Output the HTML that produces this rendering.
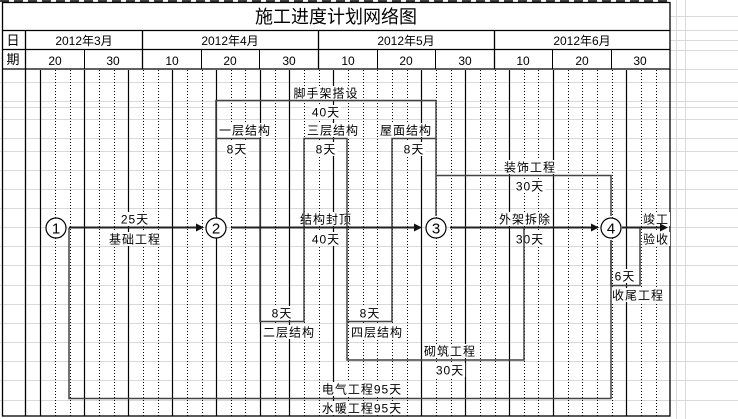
<!DOCTYPE html>
<html><head><meta charset="utf-8"><style>
html,body{margin:0;padding:0;background:#fff;width:738px;height:419px;overflow:hidden}
svg{display:block}
text{font-family:"Liberation Sans","Noto Sans CJK SC",sans-serif;font-size:12px;fill:#000}
.l{letter-spacing:1px}
</style></head><body>
<svg width="738" height="419" viewBox="0 0 738 419" xmlns="http://www.w3.org/2000/svg">
<g stroke="#d9d9d9" stroke-width="1">
<line x1="0" y1="82.5" x2="738" y2="82.5"/><line x1="0" y1="101.5" x2="738" y2="101.5"/>
<line x1="0" y1="107.5" x2="738" y2="107.5"/><line x1="0" y1="119.5" x2="738" y2="119.5"/>
<line x1="0" y1="138.5" x2="738" y2="138.5"/><line x1="0" y1="151.5" x2="738" y2="151.5"/>
<line x1="0" y1="170.5" x2="738" y2="170.5"/><line x1="0" y1="189.5" x2="738" y2="189.5"/>
<line x1="0" y1="208.5" x2="738" y2="208.5"/><line x1="0" y1="227.5" x2="738" y2="227.5"/>
<line x1="0" y1="246.5" x2="738" y2="246.5"/><line x1="0" y1="265.5" x2="738" y2="265.5"/>
<line x1="0" y1="285.5" x2="738" y2="285.5"/><line x1="0" y1="304.5" x2="738" y2="304.5"/>
<line x1="0" y1="323.5" x2="738" y2="323.5"/><line x1="0" y1="342.5" x2="738" y2="342.5"/>
<line x1="0" y1="361.5" x2="738" y2="361.5"/><line x1="0" y1="380.5" x2="738" y2="380.5"/>
<line x1="0" y1="400.5" x2="738" y2="400.5"/>
<line x1="670" y1="16.5" x2="738" y2="16.5"/><line x1="670" y1="30.5" x2="738" y2="30.5"/>
<line x1="670" y1="40.5" x2="738" y2="40.5"/><line x1="670" y1="50.5" x2="738" y2="50.5"/>
<line x1="670" y1="69.5" x2="738" y2="69.5"/>
<line x1="676.5" y1="0" x2="676.5" y2="419"/><line x1="685.5" y1="0" x2="685.5" y2="419"/>
</g>
<line x1="0" y1="1" x2="670" y2="1" stroke="#000" stroke-width="1.5" stroke-dasharray="9,5"/>
<g id="vg" stroke="#000" stroke-width="1"></g>
<g stroke="#000" stroke-width="1.3" fill="none">
<rect x="2.5" y="2.5" width="667.5" height="413.5"/>
<line x1="2" y1="30.5" x2="670" y2="30.5"/>
<line x1="2" y1="49.5" x2="670" y2="49.5"/>
<line x1="2" y1="69" x2="670" y2="69"/>
<line x1="25.5" y1="30" x2="25.5" y2="416"/>
<line x1="142.5" y1="30" x2="142.5" y2="69"/>
<line x1="318.5" y1="30" x2="318.5" y2="69"/>
<line x1="494.5" y1="30" x2="494.5" y2="69"/>
</g>
<g stroke="#000" stroke-width="1">
<line x1="84.5" y1="50" x2="84.5" y2="69"/><line x1="201.5" y1="50" x2="201.5" y2="69"/>
<line x1="259.5" y1="50" x2="259.5" y2="69"/><line x1="377.5" y1="50" x2="377.5" y2="69"/>
<line x1="435.5" y1="50" x2="435.5" y2="69"/><line x1="552.5" y1="50" x2="552.5" y2="69"/>
<line x1="611.5" y1="50" x2="611.5" y2="69"/>
</g>
<text x="336" y="23" text-anchor="middle" style="font-size:18px">施工进度计划网络图</text>
<text x="13" y="45" text-anchor="middle" style="font-size:13px">日</text>
<text x="13" y="64" text-anchor="middle" style="font-size:13px">期</text>
<g text-anchor="middle">
<text x="84" y="45">2012年3月</text><text x="230" y="45">2012年4月</text>
<text x="406" y="45">2012年5月</text><text x="582" y="45">2012年6月</text>
<text x="55" y="65">20</text><text x="113" y="65">30</text><text x="172" y="65">10</text>
<text x="230" y="65">20</text><text x="289" y="65">30</text><text x="348" y="65">10</text>
<text x="406" y="65">20</text><text x="465" y="65">30</text><text x="523" y="65">10</text>
<text x="582" y="65">20</text><text x="640" y="65">30</text>
</g>
<g id="lbl"></g>
<g stroke="#444" stroke-width="1.5" fill="none">
<polyline points="216,216 216,100.5 436,100.5 436,216"/>
<polyline points="216,138.5 260,138.5 260,321.5 304,321.5 304,138.5 347,138.5 347,360 524,360 524,228"/>
<polyline points="347,321.5 392,321.5 392,138.5 436,138.5"/>
<polyline points="436,175.5 611,175.5 611,216"/>
<polyline points="611,240 611,285.5 640,285.5 640,228"/>
<polyline points="69,228 69,398.5 611,398.5 611,240"/>
</g>
<g stroke="#222" stroke-width="2">
<line x1="69" y1="227.5" x2="198" y2="227.5"/>
<line x1="231" y1="227.5" x2="416" y2="227.5"/>
<line x1="450" y1="227.5" x2="593" y2="227.5"/>
<line x1="622" y1="227.5" x2="662" y2="227.5"/>
</g>
<g fill="#111">
<polygon points="204,227.5 196,223.5 196,231.5"/>
<polygon points="422,227.5 414,223.5 414,231.5"/>
<polygon points="599,227.5 591,223.5 591,231.5"/>
<polygon points="668,227.5 660,223.5 660,231.5"/>
</g>
<g fill="#fff" stroke="#000" stroke-width="1.2">
<circle cx="56" cy="228" r="10"/><circle cx="216" cy="228" r="10"/>
<circle cx="436" cy="228" r="10"/><circle cx="611" cy="228" r="10"/>
</g>
<g text-anchor="middle" style="font-size:15px">
<text x="56" y="233.5" style="font-size:15px">1</text>
<text x="216" y="233.5" style="font-size:15px">2</text>
<text x="436" y="233.5" style="font-size:15px">3</text>
<text x="611" y="233.5" style="font-size:15px">4</text>
</g>
<script>
var vg=document.getElementById('vg'),ns='http://www.w3.org/2000/svg';
var solid=[0,1,4,7,10,13,16,18,21,27,30,33,36,41,44];
for(var k=1;k<44;k++){var x=Math.round(25.7+14.65*k)+0.5;var l=document.createElementNS(ns,'line');
l.setAttribute('x1',x);l.setAttribute('x2',x);l.setAttribute('y1',70);l.setAttribute('y2',416);
if(solid.indexOf(k)<0){l.setAttribute('stroke-dasharray','1,2');}else{l.setAttribute('stroke-width','1.2');}
vg.appendChild(l);}
var L=[["脚手架搭设",326,93],["40天",326,112],["一层结构",245,130],["8天",237,149],["三层结构",333,130],["8天",326,149],
["屋面结构",406,130],["8天",414,149],["装饰工程",530,167],["30天",530,186],["25天",135,219],["基础工程",135,239],
["结构封顶",326,219],["40天",326,239],["外架拆除",525,219],["30天",530,239],["竣工",656,219],["验收",656,239],
["6天",625,276],["收尾工程",638,295],["8天",282,313],["二层结构",289,332],["8天",370,313],["四层结构",377,332],
["砌筑工程",450,351],["30天",450,370],["电气工程95天",362,389],["水暖工程95天",362,408]];
var g=document.getElementById('lbl');
L.forEach(function(a){var t=document.createElementNS(ns,'text');t.textContent=a[0];t.setAttribute('x',a[1]);t.setAttribute('y',a[2]+4.5);
t.setAttribute('text-anchor','middle');t.setAttribute('class','l');g.appendChild(t);
var b=t.getBBox();var r=document.createElementNS(ns,'rect');r.setAttribute('x',b.x-1);r.setAttribute('y',a[2]-7);
r.setAttribute('width',b.width+2);r.setAttribute('height',14);r.setAttribute('fill','#fff');g.insertBefore(r,t);});
</script>
</svg>
</body></html>
